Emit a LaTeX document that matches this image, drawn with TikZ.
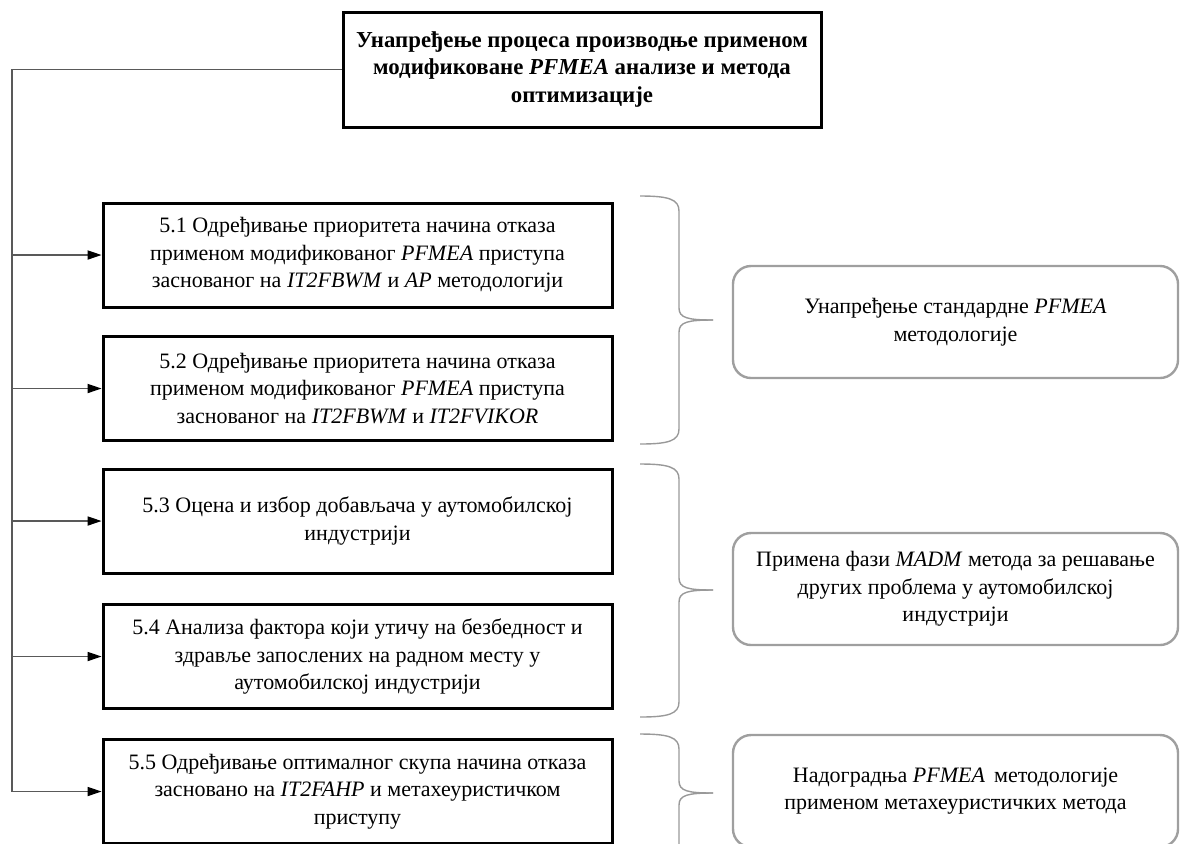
\documentclass[tikz,border=0pt]{standalone}
\usepackage{fontspec}
\setmainfont{Liberation Serif}
\usetikzlibrary{arrows.meta}

\begin{document}
\begin{tikzpicture}[x=0.5pt,y=-0.5pt,
    txt/.style={align=center,inner sep=0pt,font=\fontsize{11}{13.7}\selectfont},
    mainbox/.style={txt,draw,line width=1.5pt,minimum width=239pt,minimum height=57.5pt,
      font=\fontsize{11.4}{13.6}\selectfont\bfseries},
    taskbox/.style={txt,draw,line width=1.5pt,minimum width=254.5pt,minimum height=52pt},
    goalbox/.style={txt,draw=gray!75,line width=1.2pt,rounded corners=9pt,
      minimum width=222.5pt,minimum height=56pt},
    conn/.style={draw=black!65,line width=0.6pt},
    tip/.style={-{Triangle[length=7pt,width=4.6pt,color=black]}},
    brc/.style={draw=gray!80,line width=0.7pt}]
  \clip (0,0) rectangle (1181,843);
  \node[mainbox] (T) at (582,69.5) {Унапређење процеса производње применом\\
    модификоване \textit{PFMEA} анализе и метода\\ оптимизације};
  \node[taskbox] (B1) at (357.5,255) {5.1 Одређивање приоритета начина отказа\\
    применом модификованог \textit{PFMEA} приступа\\
    заснованог на \textit{IT2FBWM} и \textit{AP} методологији};
  \node[taskbox] (B2) at (357.5,388.5) {5.2 Одређивање приоритета начина отказа\\
    применом модификованог \textit{PFMEA} приступа\\
    заснованог на \textit{IT2FBWM} и \textit{IT2FVIKOR}};
  \node[taskbox] (B3) at (357.5,521) {5.3 Оцена и избор добављача у аутомобилској\\
    индустрији};
  \node[taskbox] (B4) at (357.5,656.5) {5.4 Анализа фактора који утичу на безбедност и\\
    здравље запослених на радном месту у\\ аутомобилској индустрији};
  \node[taskbox] (B5) at (357.5,791.5) {5.5 Одређивање оптималног скупа начина отказа\\
    засновано на \textit{IT2FAHP} и метахеуристичком\\ приступу};
  \node[goalbox] (G1) at (955.5,322) {Унапређење стандардне \textit{PFMEA}\\ методологије};
  \node[goalbox] (G2) at (955.5,589) {Примена фази \textit{MADM} метода за решавање\\
    других проблема у аутомобилској\\ индустрији};
  \node[goalbox] (G3) at (955.5,791) {Надоградња \textit{PFMEA}\, методологије\\
    применом метахеуристичких метода};
  \coordinate (L) at (12,0);
  \draw[conn] (T.west) -| (L |- B5.west);
  \foreach \i in {1,...,5}
    \draw[conn,tip] (L |- B\i.west) -- (B\i.west);
  \foreach \t/\m/\b in {196/320/444, 464/590/717, 734/793/860}{
    \draw[brc] (640,\t) .. controls (668,\t) and (679,\t+3) .. (679,\t+15)
      -- (679,\m-12) .. controls (679,\m-2) and (688,\m) .. (713,\m);
    \draw[brc] (640,\b) .. controls (668,\b) and (679,\b-3) .. (679,\b-15)
      -- (679,\m+12) .. controls (679,\m+2) and (688,\m) .. (713,\m);
  }
\end{tikzpicture}
\end{document}
